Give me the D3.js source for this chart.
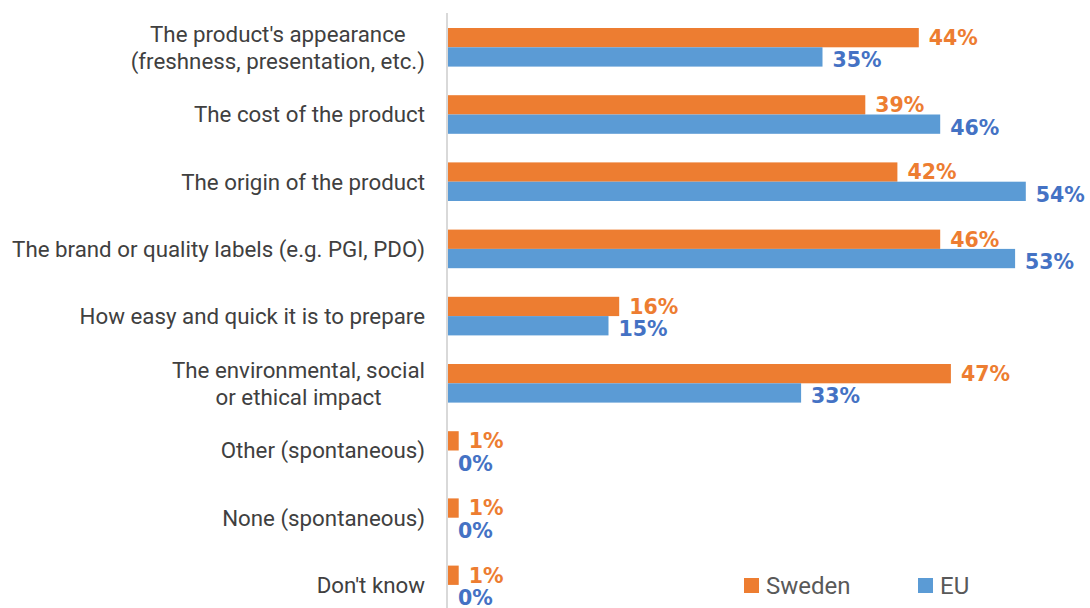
<!DOCTYPE html>
<html>
<head>
<meta charset="utf-8">
<script src="https://cdn.jsdelivr.net/npm/d3@7"></script>
<style>
  html, body { margin: 0; padding: 0; background: #fff; }
  svg { display: block; }
</style>
</head>
<body>
<svg id="chart" width="1090" height="608"></svg>
<script>
const categories = [
  ["The product's appearance", "(freshness, presentation, etc.)"],
  ["The cost of the product"],
  ["The origin of the product"],
  ["The brand or quality labels (e.g. PGI, PDO)"],
  ["How easy and quick it is to prepare"],
  ["The environmental, social", "or ethical impact"],
  ["Other (spontaneous)"],
  ["None (spontaneous)"],
  ["Don't know"]
];
const seriesNames = ["Sweden", "EU"];
const sweden = [44, 39, 42, 46, 16, 47, 1, 1, 1];
const eu = [35, 46, 54, 53, 15, 33, 0, 0, 0];
const barColors = ["#ED7D31", "#5B9BD5"];
const labelColors = ["#ED7D31", "#4472C4"];

const svg = d3.select("#chart");
const x = d3.scaleLinear().domain([0, 60]).range([448, 1090]);
const y = d3.scaleBand().domain(d3.range(categories.length)).range([13.7, 13.7 + 67.2 * 9]).padding(0);
const sub = d3.scaleBand().domain(seriesNames).range([-19.3, 19.3]).padding(0);

const data = categories.map((c, i) => ({ i, c, vals: [sweden[i], eu[i]] }));

const catFont = "Roboto, 'Open Sans', sans-serif";
const valFont = "'DejaVu Sans', Verdana, sans-serif";
const labelShift = [0, 3];

// axis line
svg.append("line")
  .attr("x1", 447).attr("x2", 447)
  .attr("y1", 13).attr("y2", 608)
  .attr("stroke", "#d9d9d9").attr("stroke-width", 2);

const groups = svg.selectAll("g.grp").data(data).join("g")
  .attr("class", "grp")
  .attr("transform", d => `translate(0,${y(d.i) + y.bandwidth() / 2})`);

seriesNames.forEach((s, si) => {
  groups.append("rect")
    .attr("x", x(0))
    .attr("y", sub(s))
    .attr("width", d => x(d.vals[si]) - x(0))
    .attr("height", sub.bandwidth())
    .attr("fill", barColors[si]);
  groups.append("text")
    .attr("x", d => x(d.vals[si]) + 10)
    .attr("y", sub(s) + sub.bandwidth() / 2 + labelShift[si])
    .attr("dy", "0.36em")
    .attr("font-family", valFont)
    .attr("font-weight", "bold")
    .attr("font-size", 20.5)
    .attr("fill", labelColors[si])
    .text(d => d.vals[si] + "%");
});

// category labels
groups.each(function(d) {
  const g = d3.select(this);
  const n = d.c.length;
  const lh = 27;
  const t = g.append("text")
    .attr("font-family", catFont)
    .attr("font-size", 22.3)
    .attr("fill", "#404040");
  d.c.forEach((line, li) => {
    t.append("tspan")
      .attr("x", 0)
      .attr("y", (li - (n - 1) / 2) * lh)
      .attr("dy", "0.35em")
      .text(line);
  });
  const tsp = t.selectAll("tspan").nodes();
  const maxW = d3.max(tsp, n => n.getComputedTextLength());
  tsp.forEach(n => {
    const w = n.getComputedTextLength();
    d3.select(n).attr("x", 425 - maxW + (maxW - w) / 2);
  });
});

// legend
const legend = svg.append("g");
const legX = [744, 918];
seriesNames.forEach((s, si) => {
  legend.append("rect")
    .attr("x", legX[si]).attr("y", 578)
    .attr("width", 15).attr("height", 15)
    .attr("fill", barColors[si]);
  legend.append("text")
    .attr("x", legX[si] + 22).attr("y", 585.5)
    .attr("dy", "0.35em")
    .attr("font-family", catFont)
    .attr("font-size", 24)
    .attr("fill", "#595959")
    .text(s);
});
</script>
</body>
</html>
